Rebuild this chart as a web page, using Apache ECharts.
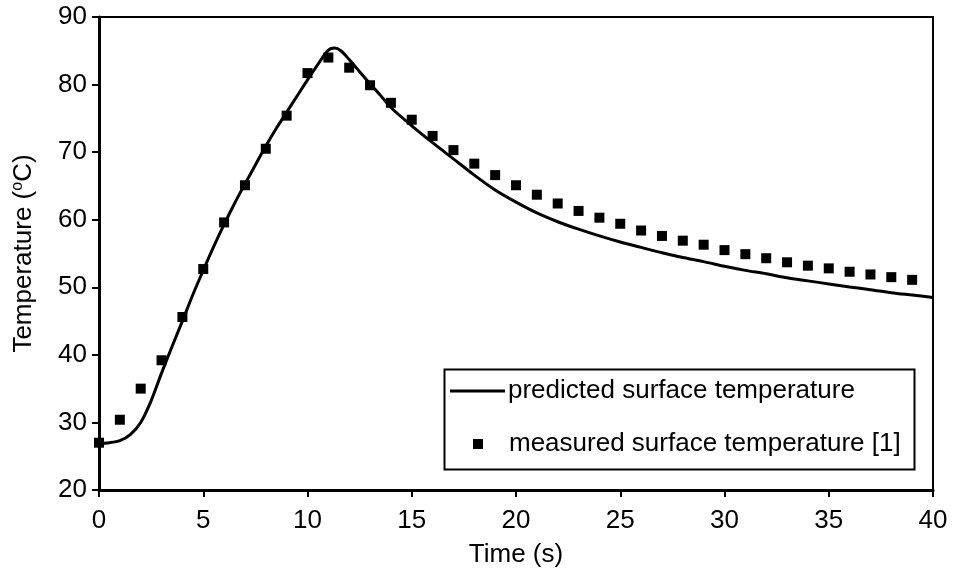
<!DOCTYPE html>
<html>
<head>
<meta charset="utf-8">
<script src="https://cdn.jsdelivr.net/npm/echarts@6/dist/echarts.min.js"></script>
<style>
html,body{margin:0;padding:0;background:#fff;}
#chart{width:953px;height:581px;}
</style>
</head>
<body>
<div id="chart"></div>
<script>
// predicted surface temperature (line)
var predT = [0, 0.5, 1, 1.5, 2, 2.5, 3, 3.5, 4, 4.5, 5, 5.5, 6, 6.5, 7, 7.5, 8, 8.5, 9, 9.5, 10, 10.5, 11, 11.3, 11.6, 12, 12.5, 13, 13.5, 14, 15, 16, 17, 18, 19, 20, 21, 22, 23, 24, 25, 26, 27, 28, 29, 30, 31, 32, 33, 34, 35, 36, 37, 38, 39, 40];
var predV = [26.9, 27.0, 27.3, 28.2, 30.0, 33.2, 37.3, 41.2, 45.0, 48.9, 52.5, 56.0, 59.3, 62.4, 65.3, 68.1, 70.9, 73.5, 75.9, 78.3, 80.7, 83.0, 85.1, 85.4, 85.0, 83.7, 81.9, 80.1, 78.4, 76.6, 73.9, 71.4, 69.0, 66.6, 64.4, 62.6, 61.0, 59.7, 58.6, 57.6, 56.7, 55.9, 55.1, 54.4, 53.8, 53.1, 52.5, 52.0, 51.4, 50.95, 50.5, 50.05, 49.65, 49.2, 48.85, 48.5];
// measured surface temperature [1] (squares)
var measT = [0, 1, 2, 3, 4, 5, 6, 7, 8, 9, 10, 11, 12, 13, 14, 15, 16, 17, 18, 19, 20, 21, 22, 23, 24, 25, 26, 27, 28, 29, 30, 31, 32, 33, 34, 35, 36, 37, 38, 39];
var measV = [27.0, 30.4, 35.0, 39.2, 45.6, 52.7, 59.6, 65.1, 70.5, 75.4, 81.7, 84.0, 82.5, 79.9, 77.3, 74.8, 72.4, 70.3, 68.3, 66.6, 65.1, 63.7, 62.4, 61.3, 60.3, 59.4, 58.4, 57.6, 56.9, 56.3, 55.5, 54.9, 54.3, 53.7, 53.2, 52.8, 52.3, 51.9, 51.5, 51.1];
var seriesNames = ['predicted surface temperature', 'measured surface temperature [1]'];
var xTitle = 'Time (s)';
var yTitle = '{a|Temperature (}{s|o}{a|C)}';

var FONT = 'Liberation Sans, Arial, sans-serif';
var FS = 26;

function zip(a, b) { return a.map(function (v, i) { return [v, b[i]]; }); }

var chart = echarts.init(document.getElementById('chart'), null, { renderer: 'canvas' });
chart.setOption({
  animation: false,
  backgroundColor: '#fff',
  grid: { left: 99, right: 20, top: 17, bottom: 91, show: true, borderColor: '#000', borderWidth: 2, backgroundColor: 'transparent' },
  xAxis: {
    type: 'value', min: 0, max: 40, interval: 5,
    name: xTitle, nameLocation: 'middle', nameGap: 52,
    nameTextStyle: { color: '#000', fontSize: FS, fontFamily: FONT },
    axisLine: { show: true, onZero: false, lineStyle: { color: '#000', width: 3 } },
    axisTick: { show: true, inside: false, length: 7, lineStyle: { color: '#000', width: 2 } },
    axisLabel: { color: '#000', fontSize: FS, fontFamily: FONT, margin: 18 },
    splitLine: { show: false }
  },
  yAxis: {
    type: 'value', min: 20, max: 90, interval: 10,
    name: yTitle, nameLocation: 'middle', nameGap: 62, nameRotate: 90,
    nameTextStyle: {
      color: '#000', fontSize: FS, fontFamily: FONT,
      rich: {
        a: { color: '#000', fontSize: FS, fontFamily: FONT },
        s: { color: '#000', fontSize: 16, fontFamily: FONT, padding: [0, 0, 11, 0] }
      }
    },
    axisLine: { show: true, onZero: false, lineStyle: { color: '#000', width: 3 } },
    axisTick: { show: true, inside: false, length: 7, lineStyle: { color: '#000', width: 2 } },
    axisLabel: { color: '#000', fontSize: FS, fontFamily: FONT, margin: 12 },
    splitLine: { show: false }
  },
  legend: [
    {
      data: [{ name: seriesNames[0], icon: 'rect' }], left: 450, top: 378, padding: 0,
      itemWidth: 55, itemHeight: 3, itemGap: 0,
      textStyle: { color: '#000', fontSize: FS, fontFamily: FONT, padding: [0, 0, 0, -2] },
      itemStyle: { color: '#000', opacity: 1 }
    },
    {
      data: [seriesNames[1]], left: 473, top: 431, padding: 0,
      itemWidth: 10, itemHeight: 10, itemGap: 0,
      textStyle: { color: '#000', fontSize: FS, fontFamily: FONT, padding: [0, 0, 0, 21] },
      itemStyle: { opacity: 1 }
    }
  ],
  graphic: [
    { type: 'rect', left: 442, top: 367, z: 10, silent: true,
      shape: { width: 470, height: 100 },
      style: { fill: 'none', stroke: '#000', lineWidth: 2 } }
  ],
  series: [
    {
      name: seriesNames[0], type: 'line', data: zip(predT, predV),
      symbol: 'none', smooth: 0.3,
      lineStyle: { color: '#000', width: 3 }, itemStyle: { color: '#000' }, z: 3
    },
    {
      name: seriesNames[1], type: 'scatter', data: zip(measT, measV),
      symbol: 'rect', symbolSize: 10,
      itemStyle: { color: '#000', opacity: 1 }, z: 4
    }
  ]
});
</script>
</body>
</html>
